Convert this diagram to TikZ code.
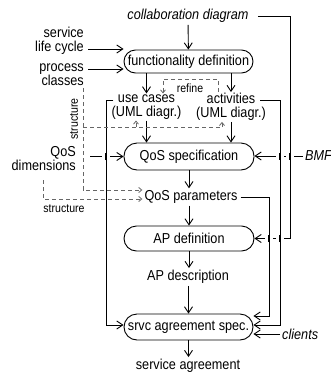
\documentclass[tikz,border=0pt]{standalone}
\usepackage{fontspec}
\setmainfont{Liberation Sans}[FakeStretch=0.88]
\usetikzlibrary{arrows.meta}
\newcommand\hopmark[1]{%
  \fill[white] ([xshift=-4pt,yshift=-1.6pt]#1) rectangle ([xshift=4pt,yshift=1.6pt]#1);
  \draw[line width=2pt] ([yshift=-3.5pt]#1) -- ([yshift=3.5pt]#1);}
\begin{document}
\begin{tikzpicture}[x=1pt,y=-1pt,
  every node/.style={font=\fontsize{14.4}{14}\selectfont, inner sep=2pt},
  box/.style={draw, line width=0.9pt, minimum width=130pt, minimum height=26pt, rounded corners=13pt},
  ln/.style={line width=0.9pt},
  arr/.style={ln, -{Straight Barb[length=6pt,width=8pt]}},
  dsh/.style={line width=0.8pt, black!60, dash pattern=on 4pt off 3pt},
  darr/.style={dsh, -{Straight Barb[length=3pt,width=5pt]}},
  small/.style={font=\fontsize{12}{12}\selectfont},
  it/.style={font=\fontsize{14.4}{14}\selectfont\itshape},
]
\useasboundingbox (0,0) rectangle (331,373);

% nodes
\node[it] (collab) at (188,16) {collaboration diagram};
\node[box, minimum height=23pt, rounded corners=11.5pt, minimum width=129pt] (fd) at (188.5,61.5) {functionality definition};
\node[anchor=east, align=right] (sl) at (86,41) {service\\life cycle};
\node[anchor=east, align=right] (pc) at (86,75) {process\\classes};
\node[align=center, inner sep=1pt] (uc) at (146.5,107) {use cases\\(UML diagr.)};
\node[align=center, inner sep=1pt] (act) at (231,107) {activities\\(UML diagr.)};
\node[small] (rfl) at (190,88) {refine};
\node[box, minimum height=27pt] (qs) at (189,156.5) {QoS specification};
\node[anchor=east, align=right] (qd) at (78,159) {QoS\\dimensions};
\node (qp) at (191,197) {QoS parameters};
\node[box, minimum height=25pt, rounded corners=12.5pt] (apd) at (189,238.5) {AP definition};
\node (apdesc) at (188,277) {AP description};
\node[box, minimum width=129pt] (sa) at (188.5,327) {srvc agreement spec.};
\node (sagr) at (188,366) {service agreement};
\node[it, anchor=west] (cl) at (280,334) {clients};
\node[it, anchor=west] (bmf) at (303,156) {BMF};
\node[small, rotate=90] (st1) at (74,119) {structure};
\node[small] (st2) at (64,209) {structure};

% helper coordinates
\coordinate (vL) at (106,0);
\coordinate (vA) at (280,0);
\coordinate (vQ) at (269,0);
\coordinate (vC) at (290,0);
\coordinate (slA) at ([yshift=-8pt]sl.east);
\coordinate (pcA) at ([yshift=6pt]pc.east);
\coordinate (qdA) at ([yshift=2.5pt]qd.east);
\coordinate (ucA) at ([xshift=3pt,yshift=7pt]uc.west);
\coordinate (actA) at ([xshift=-7pt,yshift=7pt]act.east);

% vertical flow
\draw[arr] (collab) -- (fd);
\draw[arr] (fd.south -| uc) -- (uc.north);
\draw[arr] (fd.south -| act) -- (act.north);
\draw[arr] (uc.south) -- (qs.north -| uc);
\draw[arr] (act.south) -- (qs.north -| act);
\draw[arr] (qs.south) -- (qs.south |- qp.north);
\draw[arr] (qp.south -| apd.north) -- (apd.north);
\draw[arr] (apd.south) -- (apd.south |- apdesc.north);
\draw[arr] (apdesc.south -| sa.north) -- (sa.north);
\draw[arr] (sa.south) -- (sa.south |- sagr.north);

% inputs from left
\draw[arr] ([xshift=2pt]slA) -- (slA -| fd.west);
\draw[arr] ([xshift=2pt]pcA) -- (pcA -| fd.west);
\draw[arr] ([xshift=12pt]qdA) -- (qdA -| qs.west);

% long connectors
\draw[arr] (ucA) -- (ucA -| vL) |- ([yshift=2pt]sa.west);
\draw[arr] (actA) -- (actA -| vA) |- ([yshift=2pt]sa.east);
\draw[arr] ([xshift=1pt]qp.east) -- (qp.east -| vQ) |- ([yshift=11pt]sa.east);
\draw[arr] ([xshift=7pt]collab.east) -- (collab.east -| vC) |- (apd.east);
\draw[arr] (bmf.west) -- (bmf.west -| qs.east);
\draw[arr] (cl.west) -- (cl.west -| sa.east);

% crossings
\coordinate (h1) at (vL |- qdA);
\coordinate (h2) at (vA |- bmf.west);
\coordinate (h3) at (vC |- bmf.west);
\coordinate (h4) at (vA |- apd.east);
\coordinate (h5) at (vQ |- apd.east);
\hopmark{h1}\hopmark{h2}\hopmark{h3}\hopmark{h4}\hopmark{h5}

% dashed: refine
\coordinate (rf1) at (218,79);
\coordinate (rf2) at (163,79);
\draw[darr] (rf1 |- act.north) -- (rf1) -- (rf2) -- (rf2 |- uc.north);

% dashed: structure from process classes
\coordinate (s2) at (83,190);
\coordinate (s3) at (83,127);
\coordinate (s4) at (222,127);
\coordinate (s5) at (136,127);
\draw[darr] (pc.south -| s2) -- (s2) -- (s2 -| qp.west);
\draw[dsh] (s3) -- (s4);
\draw[darr] (s4) -- (s4 |- act.south);
\draw[darr] (s5) -- (s5 |- uc.south);

% dashed: structure from QoS dimensions
\coordinate (t0) at (43,180);
\coordinate (t1) at (43,199);
\draw[darr] (t0) -- (t1) -- (t1 -| qp.west);
\end{tikzpicture}
\end{document}
